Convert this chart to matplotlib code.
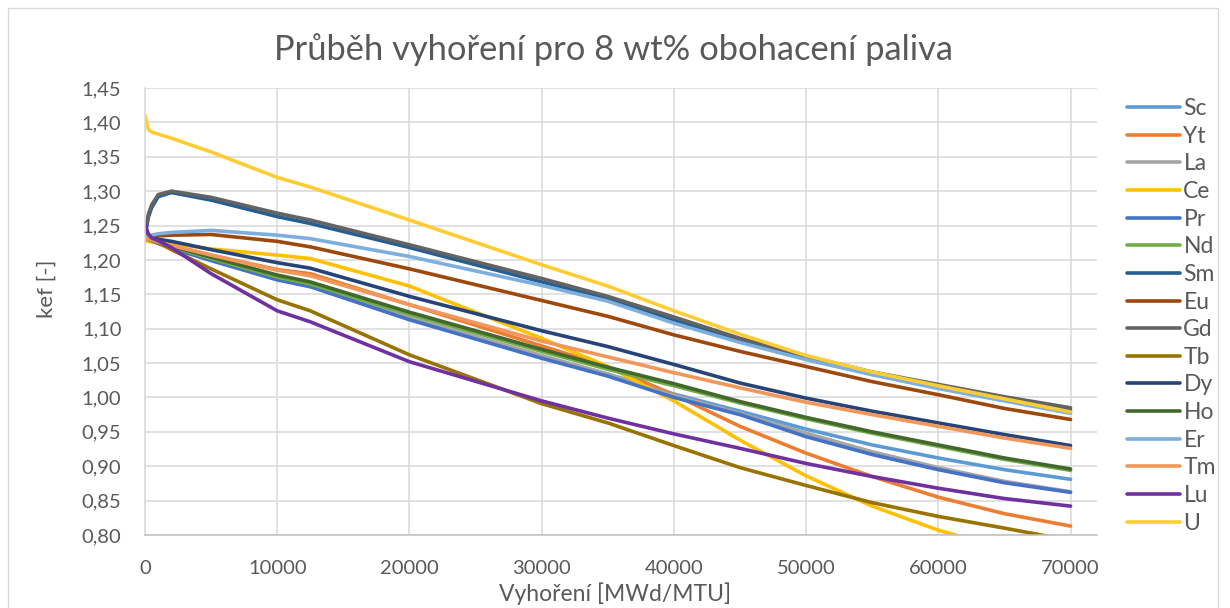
import matplotlib
matplotlib.use("Agg")
import matplotlib.pyplot as plt
from matplotlib.patches import Rectangle
from matplotlib.ticker import FuncFormatter, MultipleLocator

plt.rcParams["font.family"] = ["Lato", "DejaVu Sans"]

# burnup steps [MWd/MTU]
burnup = [0, 250, 500, 1000, 2000, 5000, 10000, 12500, 20000, 30000, 35000,
          40000, 45000, 50000, 55000, 60000, 65000, 70000]

# k_eff per dopant
sc = [1.232, 1.230, 1.228, 1.225, 1.218, 1.200, 1.172, 1.162, 1.115, 1.060, 1.034, 1.005, 0.980, 0.954, 0.931, 0.912, 0.895, 0.881]
yt = [1.232, 1.230, 1.229, 1.226, 1.221, 1.207, 1.186, 1.180, 1.135, 1.075, 1.045, 1.004, 0.958, 0.919, 0.885, 0.855, 0.831, 0.813]
la = [1.232, 1.230, 1.228, 1.225, 1.218, 1.200, 1.172, 1.162, 1.116, 1.061, 1.034, 1.003, 0.977, 0.948, 0.921, 0.898, 0.878, 0.863]
ce = [1.228, 1.227, 1.226, 1.225, 1.224, 1.216, 1.207, 1.202, 1.162, 1.086, 1.045, 0.995, 0.938, 0.886, 0.842, 0.807, 0.780, 0.755]
pr = [1.232, 1.230, 1.228, 1.224, 1.217, 1.199, 1.171, 1.161, 1.113, 1.057, 1.031, 1.000, 0.975, 0.943, 0.917, 0.895, 0.876, 0.862]
nd = [1.232, 1.230, 1.229, 1.225, 1.219, 1.202, 1.175, 1.165, 1.121, 1.067, 1.041, 1.017, 0.992, 0.969, 0.948, 0.929, 0.910, 0.894]
sm = [1.235, 1.262, 1.276, 1.292, 1.298, 1.287, 1.263, 1.253, 1.218, 1.168, 1.143, 1.112, 1.083, 1.057, 1.034, 1.015, 0.998, 0.981]
eu = [1.234, 1.234, 1.234, 1.235, 1.236, 1.237, 1.227, 1.219, 1.187, 1.141, 1.118, 1.091, 1.067, 1.045, 1.023, 1.004, 0.984, 0.968]
gd = [1.238, 1.266, 1.280, 1.295, 1.300, 1.291, 1.268, 1.258, 1.222, 1.173, 1.147, 1.117, 1.086, 1.060, 1.037, 1.019, 1.001, 0.985]
tb = [1.232, 1.230, 1.229, 1.225, 1.215, 1.187, 1.142, 1.126, 1.062, 0.991, 0.963, 0.930, 0.898, 0.872, 0.847, 0.827, 0.810, 0.792]
dy = [1.234, 1.233, 1.232, 1.230, 1.227, 1.215, 1.196, 1.188, 1.147, 1.097, 1.074, 1.048, 1.021, 0.999, 0.980, 0.963, 0.946, 0.930]
ho = [1.232, 1.230, 1.229, 1.226, 1.220, 1.204, 1.178, 1.168, 1.124, 1.070, 1.044, 1.020, 0.994, 0.971, 0.950, 0.931, 0.912, 0.896]
er = [1.234, 1.235, 1.236, 1.238, 1.240, 1.243, 1.236, 1.231, 1.205, 1.163, 1.140, 1.108, 1.080, 1.055, 1.033, 1.013, 0.995, 0.977]
tm = [1.232, 1.230, 1.229, 1.226, 1.221, 1.207, 1.185, 1.177, 1.135, 1.082, 1.059, 1.036, 1.014, 0.993, 0.975, 0.958, 0.941, 0.926]
lu = [1.252, 1.238, 1.232, 1.228, 1.218, 1.180, 1.126, 1.110, 1.052, 0.995, 0.970, 0.947, 0.926, 0.904, 0.885, 0.868, 0.853, 0.842]
u = [1.410, 1.390, 1.386, 1.383, 1.377, 1.357, 1.320, 1.306, 1.258, 1.193, 1.162, 1.126, 1.092, 1.061, 1.037, 1.017, 0.998, 0.979]

labels = ["Sc", "Yt", "La", "Ce", "Pr", "Nd", "Sm", "Eu", "Gd", "Tb", "Dy", "Ho", "Er", "Tm", "Lu", "U"]
series = [sc, yt, la, ce, pr, nd, sm, eu, gd, tb, dy, ho, er, tm, lu, u]
colors = ["#5B9BD5", "#ED7D31", "#A5A5A5", "#FFC000", "#4472C4", "#70AD47",
          "#255E91", "#9E480E", "#636363", "#997300", "#264478", "#43682B",
          "#7CAFDD", "#F1975A", "#7030A0", "#FFCD33"]

txt = "#595959"
W, H = 1230, 608

fig = plt.figure(figsize=(W / 100, H / 100), dpi=100)
fig.patches.append(Rectangle((8 / W, -0.05), 1210 / W, 1.05 - 8 / H, transform=fig.transFigure,
                             fill=False, edgecolor="#D9D9D9", linewidth=1.0))

ax = fig.add_axes([145 / W, 1 - 535 / H, (1097 - 145) / W, (535 - 88) / H])
for lab, ys, c in zip(labels, series, colors):
    ax.plot(burnup, ys, color=c, lw=2.6, label=lab,
            solid_capstyle="round", solid_joinstyle="round")

ax.set_xlim(0, 72000)
ax.set_ylim(0.80, 1.45)
ax.yaxis.set_major_locator(MultipleLocator(0.05))
ax.set_xticks(range(0, 70001, 10000))
ax.yaxis.set_major_formatter(FuncFormatter(lambda v, p: f"{v:.2f}".replace(".", ",")))
ax.grid(True, color="#D9D9D9", lw=1.1)
ax.set_axisbelow(True)
for s in ("top", "right"):
    ax.spines[s].set_visible(False)
ax.spines["left"].set_color("#D9D9D9")
ax.spines["bottom"].set_color("#BFBFBF")
ax.spines["left"].set_linewidth(1.1)
ax.spines["bottom"].set_linewidth(1.1)
ax.tick_params(length=0, labelsize=14.5, labelcolor=txt)
ax.tick_params(axis="y", pad=17)
ax.tick_params(axis="x", pad=18)

fig.text(613 / W, 1 - 50 / H, "Průběh vyhoření pro 8 wt% obohacení paliva",
         ha="center", va="center", fontsize=24.8, color=txt)
fig.text(615 / W, 1 - 594 / H, "Vyhoření [MWd/MTU]", ha="center", va="center",
         fontsize=16.5, color=txt)
fig.text(47 / W, 1 - 289 / H, "kef [-]", ha="center", va="center", rotation=90,
         fontsize=16, color=txt)

fig.legend(loc="upper left", bbox_to_anchor=(1127 / W, 1 - 98 / H), frameon=False,
           fontsize=16.5, handlelength=2.31, handletextpad=0.15, labelspacing=0.29,
           labelcolor=txt, borderaxespad=0, borderpad=0)

fig.savefig("out.png", dpi=100)
